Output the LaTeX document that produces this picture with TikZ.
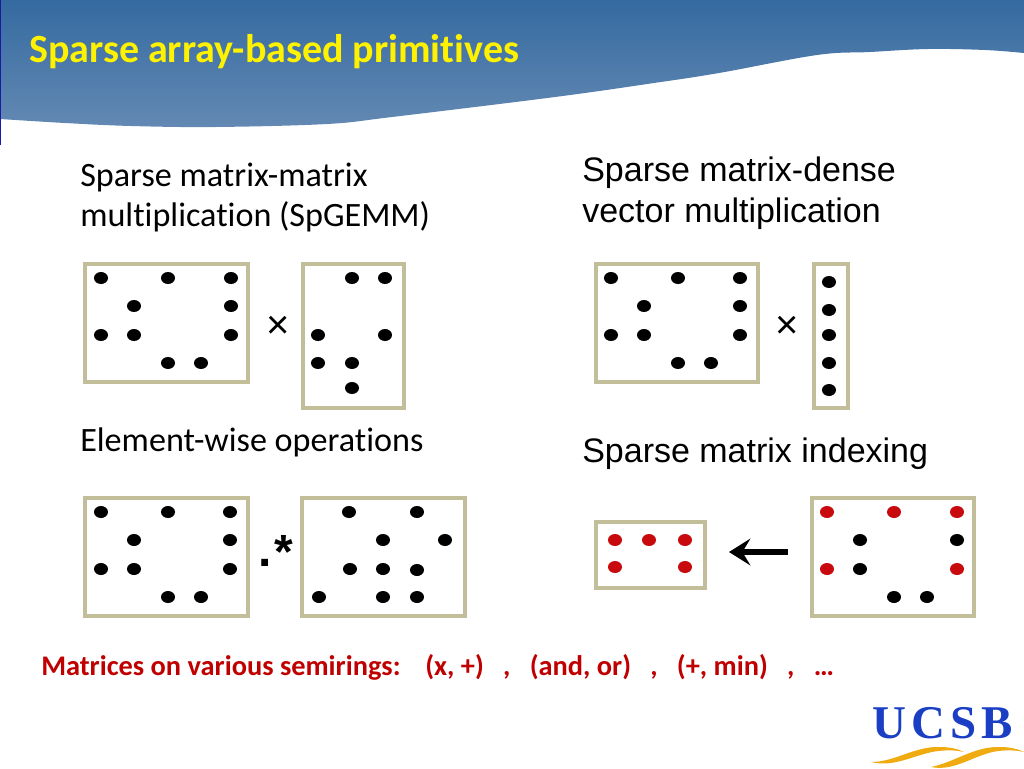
\documentclass[tikz,border=0pt]{standalone}
\usepackage{fontspec}
\setmainfont[Ligatures=NoCommon]{Carlito}
\newfontfamily\arialfont{Liberation Sans}
\newfontfamily\logofont[LetterSpace=11]{Liberation Serif}
\usetikzlibrary{arrows.meta,shapes.geometric}
\definecolor{boxc}{HTML}{C3BE9A}
\definecolor{redd}{HTML}{C80A0E}
\definecolor{hdtop}{HTML}{356AA0}
\definecolor{hdbot}{HTML}{6389B3}
\definecolor{sidebl}{HTML}{1A1AA6}
\definecolor{noter}{HTML}{C00000}
\definecolor{logob}{HTML}{1B3FC4}
\definecolor{logog}{HTML}{EFAB10}
\tikzset{
  mat/.style={draw=boxc,line width=2.5pt,fill=white},
  bk/.style={ellipse,fill=black,inner sep=0pt,minimum width=10.5pt,minimum height=9pt},
  rd/.style={ellipse,fill=redd,inner sep=0pt,minimum width=10.5pt,minimum height=9pt},
  cal/.style={anchor=base west,inner sep=0pt,font=\fontsize{25.6}{25.6}\selectfont},
  ari/.style={anchor=base west,inner sep=0pt,font=\arialfont\fontsize{25.5}{25.5}\selectfont},
}
\begin{document}
\begin{tikzpicture}[x=0.75pt,y=-0.75pt]
\useasboundingbox (0,0) rectangle (1024,768);
\fill[white] (0,0) rectangle (1024,768);
% header band
\shade[top color=hdtop,bottom color=hdbot]
  (0,0) -- (1024,0) -- plot[smooth,tension=0.6] coordinates {(1024,53) (985,50) (928,49) (870,52) (817,55) (719,73) (654,83) (555,97) (392,117) (327,124) (215,127) (131,126) (65,123) (0,119)} -- cycle;
\fill[sidebl] (0,0) rectangle (1.2,145);
\node[cal,text=yellow,font=\bfseries\fontsize{30}{30}\selectfont] (title) at (29,62) {Sparse array-based primitives};
% labels
\node[cal] (t1) at (80,186) {Sparse matrix-matrix};
\node[cal] (t2) at (80,226) {multiplication (SpGEMM)};
\node[ari] (t3) at (582,181) {Sparse matrix-dense};
\node[ari] (t4) at (582,222) {vector multiplication};
\node[cal] (t5) at (80,451) {Element-wise operations};
\node[ari] (t6) at (582,462) {Sparse matrix indexing};
% boxes
\draw[mat] (85,264) rectangle (248,382);
\draw[mat] (303,264) rectangle (404,408);
\draw[mat] (596,264) rectangle (758,382);
\draw[mat] (814,264) rectangle (848,408);
\draw[mat] (85,498) rectangle (248,616);
\draw[mat] (302,498) rectangle (465,616);
\draw[mat] (596,522) rectangle (705,588);
\draw[mat] (812,498) rectangle (974,616);
% dots
\foreach \x/\y [count=\i] in {101/278,168/278,231/278,134/306,231/306,101/335,134/335,231/335,168/363,201/363}
  \node[bk] (a\i) at (\x,\y) {};
\foreach \x/\y [count=\i] in {352/278,385/278,318/335,385/335,318/363,352/363,352/388}
  \node[bk] (b\i) at (\x,\y) {};
\foreach \x/\y [count=\i] in {611/278,678/278,740/278,644/306,740/306,611/335,644/335,740/335,678/363,711/363}
  \node[bk] (c\i) at (\x,\y) {};
\foreach \y [count=\i] in {282,310,335,363,390}
  \node[bk] (v\i) at (829,\y) {};
\foreach \x/\y [count=\i] in {101/512,168/512,230/512,134/540,230/540,101/569,134/569,230/569,168/597,201/597}
  \node[bk] (e\i) at (\x,\y) {};
\foreach \x/\y [count=\i] in {349/512,417/512,383/540,445/540,350/569,383/569,417/570,319/597,383/597,417/597}
  \node[bk] (f\i) at (\x,\y) {};
\foreach \x/\y [count=\i] in {615/540,649/540,685/540,615/567,685/567}
  \node[rd] (g\i) at (\x,\y) {};
\foreach \x/\y [count=\i] in {827/512,894/512,957/512,827/569,957/569}
  \node[rd] (h\i) at (\x,\y) {};
\foreach \x/\y [count=\i] in {860/540,957/540,860/569,894/597,927/597}
  \node[bk] (k\i) at (\x,\y) {};
% operators
\node[inner sep=0pt,font=\arialfont\fontsize{30}{30}\selectfont] (x1) at (278,327) {×};
\node[inner sep=0pt,font=\arialfont\fontsize{30}{30}\selectfont] (x2) at (787,327) {×};
\node[anchor=base west,inner sep=0pt,font=\arialfont\bfseries\fontsize{36}{36}\selectfont] (op) at (258,566) {.\kern2pt\raisebox{-2pt}{*}};
% arrow
\coordinate (as) at (788,552);
\coordinate (ae) at (729,552);
\draw[line width=3.8pt,-{Stealth[length=16pt,width=20pt,inset=6pt]}] (as) -- (ae);
% bottom note
\node[anchor=base west,inner sep=0pt,text=noter,font=\bfseries\fontsize{21.3}{21.3}\selectfont] (n1) at (41,675) {Matrices on various semirings:};
\node[anchor=base west,inner sep=0pt,text=noter,font=\bfseries\fontsize{21.3}{21.3}\selectfont] (n2) at (425,675) {(x, +)\ \ \ ,\ \ \ (and, or)\ \ \ ,\ \ \ (+, min)\ \ \ ,\ \ \ …};
% logo
\node[anchor=base west,inner sep=0pt,text=logob,font=\logofont\bfseries\fontsize{35.2}{35.2}\selectfont] (logo) at (872,738) {UCSB};
\fill[logog] (871,762) .. controls (895,762) and (915,746) .. (940,747)
  .. controls (950,747) and (958,749) .. (964,752)
  .. controls (955,750) and (948,750) .. (938,751)
  .. controls (915,754) and (895,768) .. (871,762) -- cycle;
\fill[logog] (931,767) .. controls (955,762) and (975,746) .. (1000,747)
  .. controls (1010,747) and (1018,749) .. (1024,752)
  .. controls (1015,750) and (1008,750) .. (998,751)
  .. controls (975,754) and (955,772) .. (931,767) -- cycle;
\end{tikzpicture}
\end{document}
